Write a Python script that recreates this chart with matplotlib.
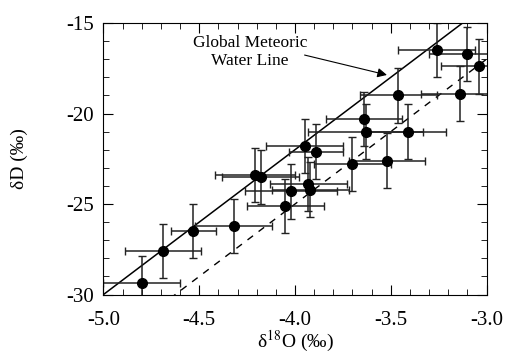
import matplotlib
matplotlib.use("Agg")
import matplotlib.pyplot as plt
import numpy as np
from matplotlib.ticker import MultipleLocator

plt.rcParams["font.family"] = ["Liberation Serif", "DejaVu Serif"]
plt.rcParams["mathtext.fontset"] = "stix"

# delta-18O, delta-D and their error bars
d18o = [-4.80, -4.69, -4.53, -4.32, -4.21, -4.18, -3.95, -3.89, -4.02, -4.05,
        -3.93, -3.92, -3.70, -3.52, -3.64, -3.63, -3.41, -3.46, -3.26, -3.10,
        -3.04, -3.14]
dD = [-29.35, -27.6, -26.5, -26.2, -23.4, -23.5, -21.8, -22.1, -24.3, -25.1,
      -23.9, -24.2, -22.8, -22.6, -20.3, -21.0, -21.0, -19.0, -16.5, -16.7,
      -17.4, -18.9]
x_err = [0.20, 0.20, 0.12, 0.20, 0.21, 0.20, 0.20, 0.14, 0.24, 0.20,
         0.20, 0.20, 0.20, 0.20, 0.20, 0.30, 0.20, 0.20, 0.20, 0.20,
         0.20, 0.20]
y_err = [1.5] * 22

# Global Meteoric Water Line and the offset (dashed) line
GMWL = (8.0, 10.0)
LOCAL = (8.0, 7.0)

fig = plt.figure(figsize=(5.06, 3.54), dpi=100)
ax = fig.add_axes([0.2045, 0.168, 0.757, 0.767])

xs = np.array([-5.0, -3.0])
ax.plot(xs, GMWL[0] * xs + GMWL[1], color="black", lw=1.1)
ax.plot(xs, LOCAL[0] * xs + LOCAL[1], color="black", lw=1.0, ls=(0, (5, 5)))

ax.errorbar(d18o, dD, xerr=x_err, yerr=y_err, fmt="o", color="black",
            ms=7, ecolor="#222222", elinewidth=1.1, capsize=3, capthick=1.0)

ax.text(-4.235, -16.6, "Global Meteoric\nWater Line", ha="center", va="center",
        fontsize=12.5, linespacing=1.15)
ax.annotate("", xy=(-3.52, -17.87), xytext=(-3.95, -16.77),
            arrowprops=dict(arrowstyle="-|>", color="black", lw=0.8,
                            mutation_scale=14, shrinkA=0, shrinkB=0))

ax.set_xlim(-5.0, -3.0)
ax.set_ylim(-30, -15)
ax.xaxis.set_major_locator(MultipleLocator(0.5))
ax.xaxis.set_minor_locator(MultipleLocator(0.1))
ax.yaxis.set_major_locator(MultipleLocator(5))
ax.yaxis.set_minor_locator(MultipleLocator(1))
ax.set_xticks([-5.0, -4.5, -4.0, -3.5, -3.0])
ax.set_xticklabels(["-5.0", "-4.5", "-4.0", "-3.5", "-3.0"])
ax.set_yticks([-30, -25, -20, -15])
ax.set_yticklabels(["-30", "-25", "-20", "-15"])
ax.tick_params(which="both", direction="in", top=True, right=True, labelsize=15)
ax.tick_params(which="major", length=7)
ax.tick_params(axis="x", pad=12)
ax.tick_params(axis="y", pad=7)
ax.tick_params(which="minor", length=4)
ax.set_xlabel("δ$^{18}$O (‰)", fontsize=14)
ax.set_ylabel("δD (‰)", fontsize=14)
ax.xaxis.set_label_coords(0.5, -0.128)
ax.yaxis.set_label_coords(-0.197, 0.5)

fig.savefig("out.png", dpi=100)
